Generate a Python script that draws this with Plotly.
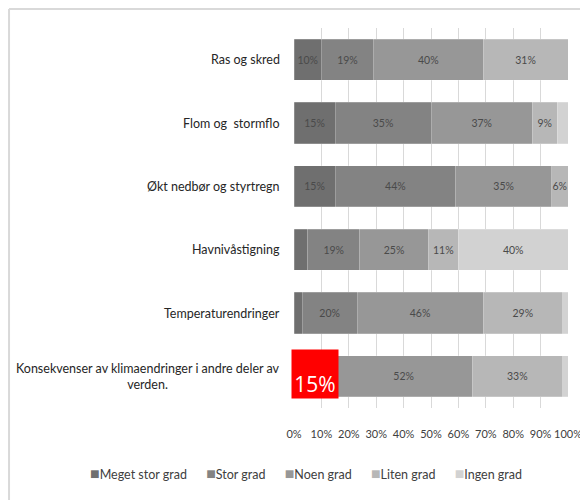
import plotly.graph_objects as go

# Categories top to bottom
categories = [
    "Ras og skred",
    "Flom og  stormflo",
    "Økt nedbør og styrtregn",
    "Havnivåstigning",
    "Temperaturendringer",
    "Konsekvenser av klimaendringer i andre deler av<br>verden.",
]

series_names = ["Meget stor grad", "Stor grad", "Noen grad", "Liten grad", "Ingen grad"]

meget_stor = [10, 15, 15, 5, 3, 3]
stor = [19, 35, 44, 19, 20, 12]
noen = [40, 37, 35, 25, 46, 50]
liten = [31, 9, 6, 11, 29, 33]
ingen = [0, 4, 0, 40, 2, 2]

# Data labels as printed on the bars ("" = no label)
meget_stor_text = ["10%", "15%", "15%", "", "", ""]
stor_text = ["19%", "35%", "44%", "19%", "20%", ""]
noen_text = ["40%", "37%", "35%", "25%", "46%", "52%"]
liten_text = ["31%", "9%", "6%", "11%", "29%", "33%"]
ingen_text = ["", "", "", "40%", "", ""]

# Red highlight drawn over the last row
highlight_value = 15
highlight_row = categories[-1]

COLORS = ["#6f6f6f", "#838383", "#979797", "#b7b7b7", "#d2d2d2"]
FONT = "Lato, sans-serif"

values = [meget_stor, stor, noen, liten, ingen]
texts = [meget_stor_text, stor_text, noen_text, liten_text, ingen_text]

fig = go.Figure()
for name, vals, txt, color in zip(series_names, values, texts, COLORS):
    fig.add_trace(
        go.Bar(
            y=categories,
            x=vals,
            name=name,
            orientation="h",
            marker_color=color,
            marker_line=dict(color="rgba(255,255,255,0.35)", width=0.6),
            text=txt,
            textposition="inside",
            insidetextanchor="middle",
            textangle=0,
            textfont=dict(family=FONT, size=10.5, color="#4a4a4a"),
            hoverinfo="skip",
            showlegend=False,
        )
    )

# Category labels as annotations so the two-line label stays centred
for cat in categories:
    fig.add_annotation(
        x=0, xref="paper", y=cat, yref="y",
        text=cat, showarrow=False,
        xanchor="right", align="center", xshift=-12,
        font=dict(family=FONT, size=12.5, color="#262626"),
    )

fig.add_annotation(
    x=highlight_value / 2, xref="x", y=highlight_row, yref="y",
    text="15%", showarrow=False,
    width=46, height=48, bgcolor="#ff0000", valign="bottom",
    yshift=2, borderpad=0,
    font=dict(family="Open Sans, sans-serif", size=21, color="white"),
)

# Compact Excel-style legend: small squares hugging their labels
gap = "\u00a0" * 6
legend_text = gap.join(
    f"<span style='color:{c};font-size:16px'>■</span>{n}"
    for n, c in zip(series_names, COLORS)
)
fig.add_annotation(
    x=0.042, xref="paper", y=-0.171, yref="paper",
    text=legend_text, showarrow=False,
    xanchor="center", yanchor="middle",
    font=dict(family=FONT, size=12.5, color="#404040"),
)

# Light chart-area border (top and left edges visible in the crop)
fig.add_shape(type="line", xref="paper", yref="paper",
              x0=-1.04, x1=1.2, y0=1.05, y1=1.05,
              line=dict(color="#d9d9d9", width=2))
fig.add_shape(type="line", xref="paper", yref="paper",
              x0=-1.04, x1=-1.04, y0=1.05, y1=-0.3,
              line=dict(color="#d9d9d9", width=2))

fig.update_layout(
    width=580,
    height=492,
    barmode="stack",
    bargap=0.35,
    uniformtext=dict(minsize=10.5, mode="show"),
    paper_bgcolor="white",
    plot_bgcolor="white",
    margin=dict(l=286, r=20, t=20, b=92, autoexpand=False),
    font=dict(family=FONT, size=12, color="#404040"),
    showlegend=False,
)
fig.update_xaxes(
    range=[0, 100],
    dtick=10,
    ticksuffix="%",
    tickangle=0,
    automargin=False,
    showgrid=True,
    gridcolor="#d9d9d9",
    gridwidth=1,
    zeroline=False,
    ticklabelstandoff=18,
    tickfont=dict(family=FONT, size=11, color="#404040"),
)
fig.update_yaxes(
    autorange="reversed",
    showticklabels=False,
    showgrid=False,
    automargin=False,
)

fig.write_html("out.html")
